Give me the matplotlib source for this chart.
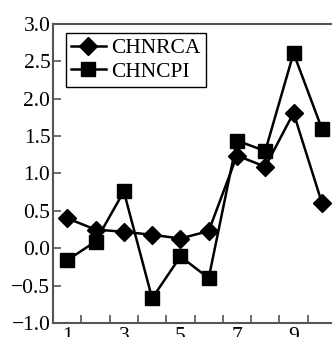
import matplotlib
matplotlib.use("Agg")
import matplotlib.pyplot as plt
from matplotlib.ticker import FixedLocator

plt.rcParams['font.family'] = 'serif'
plt.rcParams['font.serif'] = ['Liberation Serif', 'DejaVu Serif']

x = [1, 2, 3, 4, 5, 6, 7, 8, 9, 10]
chnrca = [0.40, 0.25, 0.22, 0.18, 0.13, 0.23, 1.24, 1.09, 1.81, 0.61]
chncpi = [-0.16, 0.09, 0.76, -0.67, -0.11, -0.40, 1.44, 1.30, 2.61, 1.60]
xticks = [1, 3, 5, 7, 9]
yticks = [-1.0, -0.5, 0.0, 0.5, 1.0, 1.5, 2.0, 2.5, 3.0]

fig = plt.figure(figsize=(3.32, 3.37), dpi=100)
ax = fig.add_axes([0.160, 0.0415, 0.852, 0.8875])

ax.plot(x, chnrca, color='black', lw=1.8, marker='D', markersize=9.5, label='CHNRCA')
ax.plot(x, chncpi, color='black', lw=1.8, marker='s', markersize=9.5, label='CHNCPI')

ax.set_xlim(0.5, 10.5)
ax.set_ylim(-1.0, 3.0)
ax.set_xticks(xticks)
ax.set_xticklabels([str(v) for v in xticks])
ax.xaxis.set_minor_locator(FixedLocator([v + 0.5 for v in x[:-1]]))
ax.tick_params(axis='x', which='major', length=0, labelsize=15.5, pad=3)
ax.tick_params(axis='x', which='minor', direction='in', length=6, width=1.2, color='#555555')
ax.set_yticks(yticks)
ax.set_yticklabels([f"{v:.1f}".replace('-', '\u2212') for v in yticks])
ax.tick_params(axis='y', direction='in', length=6, width=1.2, color='#555555', labelsize=15.5, pad=2)

for s in ax.spines.values():
    s.set_color('#555555')
    s.set_linewidth(1.5)

leg = ax.legend(loc='upper left', bbox_to_anchor=(0.045, 0.97), fontsize=15.5,
                frameon=True, fancybox=False, edgecolor='black', framealpha=1,
                handlelength=1.6, handletextpad=0.25, borderpad=0.25, labelspacing=0.15,
                borderaxespad=0)
leg.get_frame().set_linewidth(1.0)

fig.savefig("out.png", dpi=100)
